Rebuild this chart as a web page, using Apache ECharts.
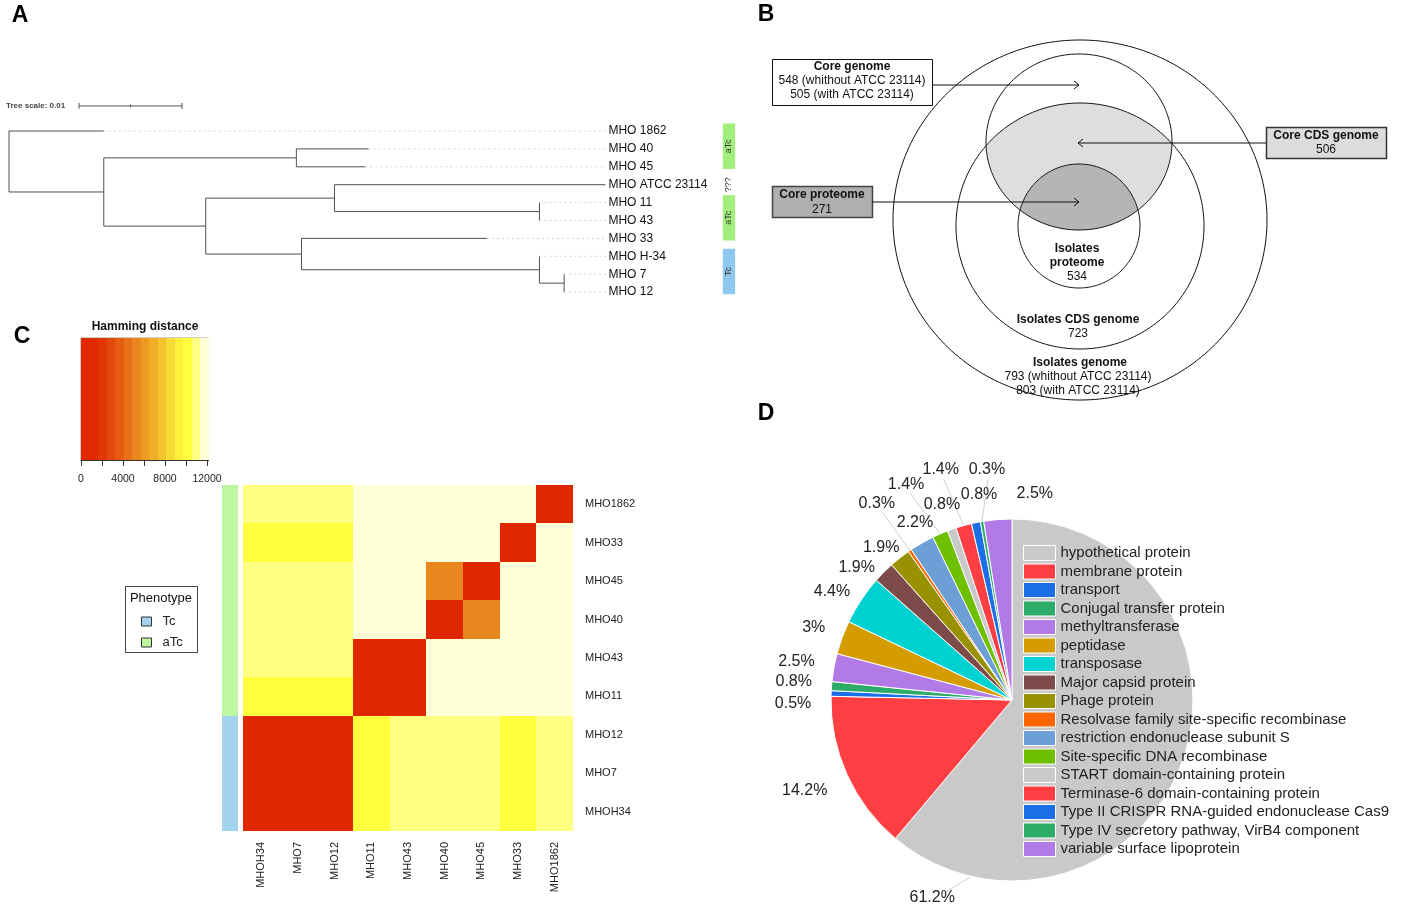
<!DOCTYPE html>
<html><head><meta charset="utf-8">
<script src="https://cdn.jsdelivr.net/npm/echarts@6/dist/echarts.min.js"></script>
<style>html,body{margin:0;padding:0;background:#fff}#c{width:1417px;height:911px}</style>
</head><body><div id="c"></div>
<script>
// ================= DATA =================
// Panel A: phylogenetic tree
const leafNames = ['MHO 1862','MHO 40','MHO 45','MHO ATCC 23114','MHO 11','MHO 43','MHO 33','MHO H-34','MHO 7','MHO 12'];
const leafParents = ['root','n2','n2','n4','n5','n5','n6','n7','n8','n8'];
const leafBranch = [0.0092,0.0070,0.0067,0.0263,0,0,0.0180,0,0,0];
const innerNodes = ['root','n1','n2','n3','n4','n5','n6','n7','n8'];
const innerParents = [null,'root','n1','n1','n3','n4','n3','n6','n7'];
const innerBranch = [0,0.0092,0.0187,0.0099,0.0125,0.0199,0.0093,0.0231,0.0024];
const leafPhenotype = ['aTc','aTc','aTc','???','aTc','aTc','aTc','Tc','Tc','Tc'];
const treeScaleValue = 0.01;

// Panel B: nested sets
const coreGenomeCounts = [548, 505];
const coreCdsCount = 506;
const coreProteomeCount = 271;
const isolatesProteomeCount = 534;
const isolatesCdsCount = 723;
const isolatesGenomeCounts = [793, 803];

// Panel C: Hamming distance heatmap
const heatCols = ['MHOH34','MHO7','MHO12','MHO11','MHO43','MHO40','MHO45','MHO33','MHO1862'];
const heatRows = ['MHO1862','MHO33','MHO45','MHO40','MHO43','MHO11','MHO12','MHO7','MHOH34'];
const rowMHO1862 = [11000,11000,11000,11700,11700,11700,11700,11700,0];
const rowMHO33   = [10000,10000,10000,11700,11700,11700,11700,0,11700];
const rowMHO45   = [11000,11000,11000,11700,11700,5200,0,11700,11700];
const rowMHO40   = [11000,11000,11000,11700,11700,0,5200,11700,11700];
const rowMHO43   = [11000,11000,11000,200,0,11700,11700,11700,11700];
const rowMHO11   = [10000,10000,10000,0,200,11700,11700,11700,11700];
const rowMHO12   = [150,100,0,10000,11000,11000,11000,10000,11000];
const rowMHO7    = [100,0,100,10000,11000,11000,11000,10000,11000];
const rowMHOH34  = [0,100,150,10000,11000,11000,11000,10000,11000];
const hammingRows = [rowMHO1862,rowMHO33,rowMHO45,rowMHO40,rowMHO43,rowMHO11,rowMHO12,rowMHO7,rowMHOH34];
const rowPhenotype = ['aTc','aTc','aTc','aTc','aTc','aTc','Tc','Tc','Tc'];
const bandStep = 810;
const bandColors = ['#e02800','#e02a02','#e13606','#e3490c','#e55c12','#e87018','#ea861e','#ec9a22','#efae28','#f3c42e','#f8da34','#fdef3a','#ffff3e','#ffff82','#ffffd8'];
const legendTickValues = [0,2000,4000,6000,8000,10000,12000];
const legendLabelValues = [0,4000,8000,12000];

// Panel D: annotation pie
const pieNames = ['hypothetical protein','membrane protein','transport','Conjugal transfer protein','methyltransferase','peptidase','transposase','Major capsid protein','Phage protein','Resolvase family site-specific recombinase','restriction endonuclease subunit S','Site-specific DNA recombinase','START domain-containing protein','Terminase-6 domain-containing protein','Type II CRISPR RNA-guided endonuclease Cas9','Type IV secretory pathway, VirB4 component','variable surface lipoprotein'];
const pieValues = [61.2,14.2,0.5,0.8,2.5,3,4.4,1.9,1.9,0.3,2.2,1.4,0.8,1.4,0.8,0.3,2.5];
const pieColors = ['#c9c9c9','#fd3e42','#1b6fe6','#2dab68','#b27ae6','#d49c00','#00d2d2','#7e4b4b','#989200','#ff6600','#6b9fd6','#6dbf00','#c9c9c9','#fd3e42','#1b6fe6','#2dab68','#b27ae6'];
// label placement around the pie (angle clockwise from top in degrees, distance from centre in px)
const pieLabelAngle  = [202,246.5,269,274.7,280.2,290,301,310.4,319.4,325.4,331.3,333.8,340.3,342.8,350.9,353.8,6.3];
const pieLabelRadius = [213,226,219,219,219,211,210,204,201,238,202,240,208,241,208,232,208];

// ================= BUILD =================
const FONT = '"Liberation Sans", Arial, sans-serif';
const depth = {}, ypos = {}, children = {};
innerNodes.forEach(n => children[n] = []);
innerNodes.forEach((n,i) => { if (innerParents[i]) children[innerParents[i]].push({id:n, leaf:false}); });
leafNames.forEach((n,i) => children[leafParents[i]].push({id:i, leaf:true}));
function nodeDepth(id){
  if (depth[id] !== undefined) return depth[id];
  const i = innerNodes.indexOf(id), p = innerParents[i];
  return depth[id] = (p === null ? 0 : nodeDepth(p) + innerBranch[i]);
}
function nodeY(id){
  if (ypos[id] !== undefined) return ypos[id];
  const ys = children[id].map(c => c.leaf ? c.id : nodeY(c.id));
  return ypos[id] = (Math.min(...ys) + Math.max(...ys)) / 2;
}
const leafDepth = leafNames.map((n,i) => nodeDepth(leafParents[i]) + leafBranch[i]);
const LABEL_X = 0.0582;
const treeSegs = [], dotSegs = [];
innerNodes.forEach((n) => {
  const ys = children[n].map(c => c.leaf ? c.id : nodeY(c.id));
  treeSegs.push([nodeDepth(n), Math.min(...ys), nodeDepth(n), Math.max(...ys)]);
  children[n].forEach(c => {
    const cy = c.leaf ? c.id : nodeY(c.id);
    const cd = c.leaf ? leafDepth[c.id] : nodeDepth(c.id);
    if (cd > nodeDepth(n)) treeSegs.push([nodeDepth(n), cy, cd, cy]);
  });
});
leafDepth.forEach((d,i) => { if (d < LABEL_X - 0.002) dotSegs.push([d, i, LABEL_X - 0.0002, i]); });
const phenoRuns = [];
leafPhenotype.forEach((p,i) => {
  const last = phenoRuns[phenoRuns.length-1];
  if (last && last[2] === p) last[1] = i; else phenoRuns.push([i,i,p]);
});

const heatData = [];
hammingRows.forEach((row, r) => row.forEach((v, c) => heatData.push([c, r, v])));
const bandData = bandColors.map((c,i) => [i*bandStep, (i+1)*bandStep, i]);

function lineItem(api, stroke, dash){
  const p1 = api.coord([api.value(0), api.value(1)]);
  const p2 = api.coord([api.value(2), api.value(3)]);
  return {type:'line', shape:{x1:p1[0], y1:p1[1], x2:p2[0], y2:p2[1]}, style:{stroke:stroke, lineWidth:1, lineDash:dash||null}};
}
function cellRect(api){
  const c = api.coord([api.value(0), api.value(1)]), s = api.size([1,1]);
  const x0 = Math.round(c[0]-s[0]/2), x1 = Math.round(c[0]+s[0]/2);
  const y0 = Math.round(c[1]-s[1]/2), y1 = Math.round(c[1]+s[1]/2);
  return {x:x0, y:y0, width:x1-x0, height:y1-y0};
}

// ---- Panel B geometry ----
const E_outer = {cx:1080, cy:220, rx:187, ry:180};
const E_core  = {cx:1079, cy:142, rx:93, ry:88};
const E_cds   = {cx:1080, cy:226, rx:124, ry:123};
const E_prot  = {cx:1079, cy:226, rx:61, ry:62};
function ePts(e, n){ n = n || 240; const a=[]; for (let i=0;i<n;i++){ const t=i/n*2*Math.PI; a.push([e.cx+e.rx*Math.cos(t), e.cy+e.ry*Math.sin(t)]);} return a; }
function inE(p,e){ return ((p[0]-e.cx)/e.rx)**2 + ((p[1]-e.cy)/e.ry)**2 <= 1.000001; }
function inter(a,b){
  const pts = ePts(a,720).filter(p=>inE(p,b)).concat(ePts(b,720).filter(p=>inE(p,a)));
  const cx = pts.reduce((s,p)=>s+p[0],0)/pts.length, cy = pts.reduce((s,p)=>s+p[1],0)/pts.length;
  pts.sort((p,q)=>Math.atan2(p[1]-cy,p[0]-cx)-Math.atan2(q[1]-cy,q[0]-cx));
  return pts;
}
function ell(e, fill){ return {type:'polygon', shape:{points:ePts(e)}, style:{fill:fill||null, stroke:'#111', lineWidth:1}}; }
function txt(x,y,t,bold,size,align){ return {type:'text', x:x, y:y, style:{text:t, font:(bold?'bold ':'')+(size||12)+'px '+FONT, fill:'#111', align:align||'center', verticalAlign:'middle'}}; }
function arrow(x1,x2,y){
  const d = x2 > x1 ? -1 : 1;
  return [
    {type:'line', shape:{x1:x1,y1:y,x2:x2,y2:y}, style:{stroke:'#111', lineWidth:1}},
    {type:'polyline', shape:{points:[[x2+d*5,y-4],[x2,y],[x2+d*5,y+4]]}, style:{stroke:'#111', lineWidth:1, fill:null}}
  ];
}
const vennGraphics = [
  ell(E_outer,'#fff'),
  {type:'polygon', shape:{points:inter(E_core,E_cds)}, style:{fill:'#dedede'}},
  {type:'polygon', shape:{points:inter(E_core,E_prot)}, style:{fill:'#b5b5b5'}},
  ell(E_cds), ell(E_core), ell(E_prot),
  {type:'rect', shape:{x:772.5,y:59.5,width:160,height:46}, style:{fill:'#fff', stroke:'#111', lineWidth:1}},
  txt(852,67,'Core genome',true),
  txt(852,81,coreGenomeCounts[0]+' (whithout ATCC 23114)'),
  txt(852,95,coreGenomeCounts[1]+' (with ATCC 23114)'),
  {type:'rect', shape:{x:1266.5,y:127.5,width:120,height:31}, style:{fill:'#dcdcdc', stroke:'#333', lineWidth:1.5}},
  txt(1326,136,'Core CDS genome',true),
  txt(1326,150,String(coreCdsCount)),
  {type:'rect', shape:{x:772.5,y:186.5,width:100,height:31}, style:{fill:'#afafaf', stroke:'#444', lineWidth:1.5}},
  txt(822,195,'Core proteome',true),
  txt(822,210,String(coreProteomeCount)),
  ...arrow(932,1079,85), ...arrow(1266,1078,143), ...arrow(872,1079,202),
  txt(1077,249,'Isolates',true), txt(1077,263,'proteome',true), txt(1077,277,String(isolatesProteomeCount)),
  txt(1078,320,'Isolates CDS genome',true), txt(1078,334,String(isolatesCdsCount)),
  txt(1080,363,'Isolates genome',true),
  txt(1078,377,isolatesGenomeCounts[0]+' (whithout ATCC 23114)'),
  txt(1078,391,isolatesGenomeCounts[1]+' (with ATCC 23114)')
];
const letters = [['A',20,16],['B',766,15],['C',22,337],['D',766,414]].map(l => ({type:'text', x:l[1], y:l[2], style:{text:l[0], font:'bold 23px '+FONT, fill:'#000', align:'center', verticalAlign:'middle'}}));
const otherGraphics = [
  {type:'text', x:145, y:327, style:{text:'Hamming distance', font:'bold 12px '+FONT, fill:'#111', align:'center', verticalAlign:'middle'}},
  {type:'rect', shape:{x:125.5,y:586.5,width:72,height:66}, style:{fill:null, stroke:'#444', lineWidth:1}},
  {type:'text', x:161, y:598, style:{text:'Phenotype', font:'13px '+FONT, fill:'#111', align:'center', verticalAlign:'middle'}},
  {type:'text', x:6, y:106, style:{text:'Tree scale: ' + treeScaleValue, font:'bold 8px '+FONT, fill:'#444', align:'left', verticalAlign:'middle'}}
];

const PX_PER_UNIT = 10300;
const TREE_XMAX = 0.072, TREE_YMIN = -2, TREE_YMAX = 9.5, ROW = 17.9;
const SCALE_START = 0.0068, SCALE_Y = -1.4;
const PIE_C = [1012, 700], PIE_R = 181;
const pieTotal = pieValues.reduce((s,v)=>s+v,0);
const pieMid = []; (function(){ let acc = 0; pieValues.forEach(v => { pieMid.push((acc + v/2)/pieTotal*360); acc += v; }); })();
const pieHasLine = pieLabelRadius.map((r,i) => i === 0 || r > 230);
function polar(angDeg, r){ const a = angDeg*Math.PI/180; return [PIE_C[0] + r*Math.sin(a), PIE_C[1] - r*Math.cos(a)]; }

const option = {
  backgroundColor: '#fff',
  animation: false,
  textStyle: {fontFamily: FONT},
  grid: [
    {left:9, top:131 + TREE_YMIN*ROW, width:TREE_XMAX*PX_PER_UNIT, height:(TREE_YMAX-TREE_YMIN)*ROW},
    {left:243, top:485, width:330, height:346},
    {left:222, top:485, width:16, height:346},
    {left:81, top:338, width:15*bandStep*0.0105, height:122, show:true, borderColor:'#999', borderWidth:1}
  ],
  xAxis: [
    {gridIndex:0, type:'value', min:0, max:TREE_XMAX, show:false},
    {gridIndex:1, type:'category', data:heatCols, position:'bottom', axisLine:{show:false}, axisTick:{show:false}, splitLine:{show:false},
     axisLabel:{rotate:90, fontSize:11, color:'#222', margin:11, fontFamily:FONT}},
    {gridIndex:2, type:'category', data:['p'], show:false},
    {gridIndex:3, type:'value', min:0, max:15*bandStep, splitLine:{show:false},
     axisLine:{show:true, lineStyle:{color:'#333'}},
     axisTick:{show:true, length:6, lineStyle:{color:'#333'}, customValues:legendTickValues},
     axisLabel:{fontSize:10.5, color:'#222', margin:14, customValues:legendLabelValues, fontFamily:FONT, formatter:v=>String(v)}}
  ],
  yAxis: [
    {gridIndex:0, type:'value', min:TREE_YMIN, max:TREE_YMAX, inverse:true, show:false},
    {gridIndex:1, type:'category', data:heatRows, inverse:true, position:'right', axisLine:{show:false}, axisTick:{show:false}, splitLine:{show:false},
     axisLabel:{fontSize:11, color:'#222', margin:12, fontFamily:FONT}},
    {gridIndex:2, type:'category', data:heatRows, inverse:true, show:false},
    {gridIndex:3, type:'value', min:0, max:1, show:false}
  ],
  visualMap: {
    type:'piecewise', show:false, seriesIndex:5, dimension:2,
    pieces: bandColors.map((c,i) => ({gte:i*bandStep, lt:(i+1)*bandStep, color:c}))
  },
  legend: [
    {data:pieNames, orient:'vertical', left:1023, top:545, itemWidth:32, itemHeight:15, itemGap:2.5, icon:'rect',
     itemStyle:{borderColor:'#fff', borderWidth:1},
     textStyle:{fontSize:15, color:'#222', fontFamily:FONT}, padding:0},
    {data:['Tc','aTc'], orient:'vertical', left:141, top:615, itemWidth:10, itemHeight:9, itemGap:8, icon:'rect',
     itemStyle:{borderColor:'#333', borderWidth:1},
     textStyle:{fontSize:13, color:'#222', fontFamily:FONT, padding:[0,0,0,6]}, padding:0}
  ],
  graphic: {elements: [...letters, ...vennGraphics, ...otherGraphics]},
  series: [
    // 0 tree branches
    {type:'custom', xAxisIndex:0, yAxisIndex:0, data:treeSegs, silent:true,
     renderItem:(p,api)=>lineItem(api,'#505050')},
    // 1 dotted guides
    {type:'custom', xAxisIndex:0, yAxisIndex:0, data:dotSegs, silent:true,
     renderItem:(p,api)=>lineItem(api,'#d4d4d4',[2,3])},
    // 2 leaf labels
    {type:'custom', xAxisIndex:0, yAxisIndex:0, data:leafNames.map((n,i)=>[LABEL_X, i]), silent:true,
     renderItem:(p,api)=>{ const c = api.coord([api.value(0), api.value(1)]);
       return {type:'text', x:c[0], y:c[1], style:{text:leafNames[p.dataIndex], font:'12px '+FONT, fill:'#111', align:'left', verticalAlign:'middle'}}; }},
    // 3 phenotype strip (panel A)
    {type:'custom', xAxisIndex:0, yAxisIndex:0, data:phenoRuns.map(r=>[r[0], r[1]]), silent:true,
     renderItem:(p,api)=>{ const run = phenoRuns[p.dataIndex];
       const a = api.coord([0.0693, api.value(0)-0.42]), b = api.coord([0.0705, api.value(1)+0.12]);
       const kids = [];
       if (run[2] !== '???') kids.push({type:'rect', shape:{x:a[0], y:a[1], width:b[0]-a[0], height:b[1]-a[1]}, style:{fill: run[2]==='Tc' ? '#8ec8ee' : '#a3ef7c'}});
       const cc = api.coord([0.0699, (api.value(0)+api.value(1))/2 - (run[2]==='???' ? 0 : 0.15)]);
       kids.push({type:'text', x:cc[0], y:cc[1], rotation:Math.PI/2, style:{text:run[2], font:'9px '+FONT, fill:'#333', align:'center', verticalAlign:'middle'}});
       return {type:'group', children:kids}; }},
    // 4 tree scale bar
    {type:'custom', xAxisIndex:0, yAxisIndex:0, data:[[SCALE_START, SCALE_Y, SCALE_START+treeScaleValue]], silent:true,
     renderItem:(p,api)=>{ const a = api.coord([api.value(0), api.value(1)]), b = api.coord([api.value(2), api.value(1)]);
       const m = (a[0]+b[0])/2;
       return {type:'group', children:[
         {type:'line', shape:{x1:a[0],y1:a[1],x2:b[0],y2:b[1]}, style:{stroke:'#555',lineWidth:1}},
         {type:'line', shape:{x1:a[0],y1:a[1]-3,x2:a[0],y2:a[1]+3}, style:{stroke:'#555',lineWidth:1}},
         {type:'line', shape:{x1:b[0],y1:b[1]-3,x2:b[0],y2:b[1]+3}, style:{stroke:'#555',lineWidth:1}},
         {type:'line', shape:{x1:m,y1:a[1]-1.5,x2:m,y2:a[1]+1.5}, style:{stroke:'#555',lineWidth:1}}
       ]}; }},
    // 5 heatmap cells (colour from visualMap)
    {type:'custom', xAxisIndex:1, yAxisIndex:1, data:heatData, silent:true,
     encode:{x:0, y:1},
     renderItem:(p,api)=>({type:'rect', shape:cellRect(api), style:{fill:api.visual('color'), stroke:null}})},
    // 6,7 phenotype side strips (panel C)
    ...['Tc','aTc'].map(ph => ({
      type:'custom', name:ph, xAxisIndex:2, yAxisIndex:2, silent:true,
      itemStyle:{color: ph==='Tc' ? '#a4d3ef' : '#bdf7a1'},
      data: rowPhenotype.map((p,i)=>p===ph ? [0,i] : null).filter(d=>d),
      renderItem:(p,api)=>({type:'rect', shape:cellRect(api), style:{fill: ph==='Tc' ? '#a4d3ef' : '#bdf7a1'}})
    })),
    // 8 colour key
    {type:'custom', xAxisIndex:3, yAxisIndex:3, data:bandData, silent:true,
     renderItem:(p,api)=>{ const a = api.coord([api.value(0), 1]), b = api.coord([api.value(1), 0]);
       const x0 = Math.round(a[0]), x1 = Math.round(b[0]);
       return {type:'rect', shape:{x:x0, y:a[1], width:x1-x0, height:b[1]-a[1]}, style:{fill:bandColors[api.value(2)]}}; }},
    // 9 pie
    {type:'pie', center:PIE_C, radius:PIE_R, startAngle:90, clockwise:true, avoidLabelOverlap:false,
     itemStyle:{borderColor:'#fff', borderWidth:1},
     data: pieNames.map((n,i)=>({name:n, value:pieValues[i], itemStyle:{color:pieColors[i]}, labelLine:{show:pieHasLine[i]}})),
     label:{show:true, position:'outside', formatter:'{c}%', fontSize:16, color:'#222', fontFamily:FONT},
     labelLine:{show:true, length:8, length2:6, lineStyle:{color:'#d0d0d0', width:1}},
     labelLayout:(params)=>{
       const i = params.dataIndex;
       const pos = polar(pieLabelAngle[i], pieLabelRadius[i]);
       const out = {x:pos[0], y:pos[1], align:'center', verticalAlign:'middle'};
       if (pieHasLine[i]) {
         const startAng = i === 0 ? 193 : pieMid[i];
         const endAng = i === 0 ? 199 : pieLabelAngle[i];
         out.labelLinePoints = [polar(startAng, PIE_R), polar(endAng, pieLabelRadius[i] - 10)];
       }
       return out;
     },
     emphasis:{disabled:true}}
  ]
};
const chart = echarts.init(document.getElementById('c'), null, {renderer:'canvas'});
chart.setOption(option);
</script></body></html>
